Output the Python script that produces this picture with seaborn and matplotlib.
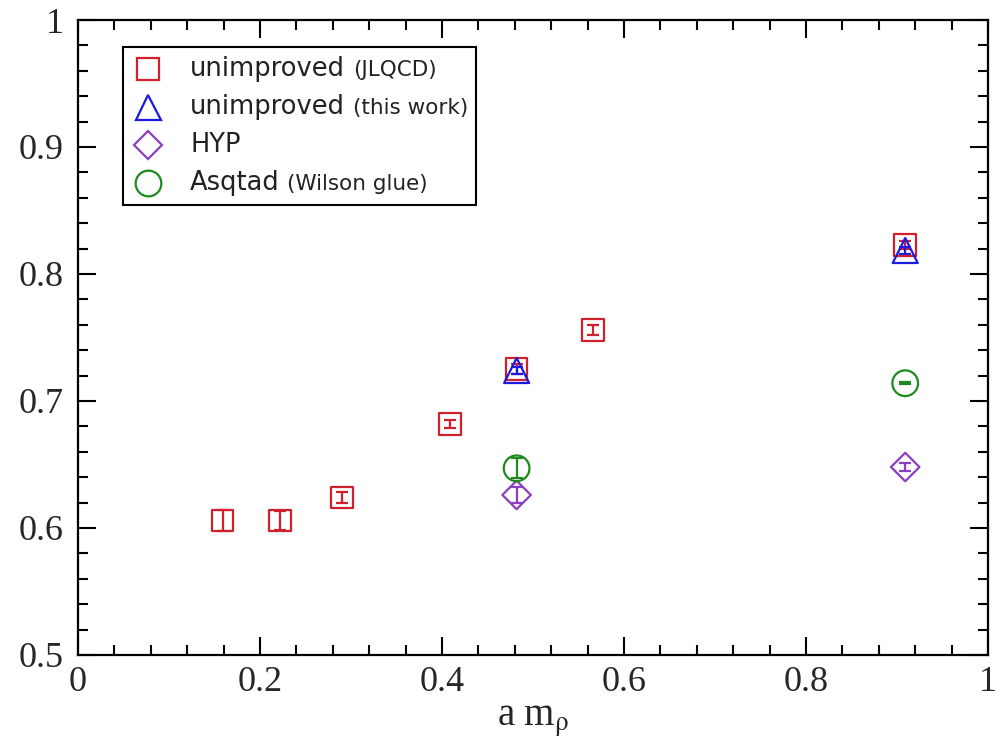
import matplotlib
matplotlib.use('Agg')
import matplotlib.pyplot as plt
import seaborn as sns
from matplotlib.lines import Line2D
from matplotlib.ticker import MultipleLocator, FuncFormatter
from matplotlib.offsetbox import (AnchoredOffsetbox, DrawingArea, HPacker,
                                  TextArea, VPacker)

# values
jlqcd_x = [0.159, 0.222, 0.290, 0.409, 0.482, 0.566, 0.909]
jlqcd_y = [0.606, 0.606, 0.624, 0.682, 0.725, 0.756, 0.823]
jlqcd_err = [0.008, 0.0075, 0.004, 0.003, 0.004, 0.004, 0.003]

this_x = [0.482, 0.909]
this_y = [0.724, 0.8185]
this_err = [0.003, 0.003]

hyp_x = [0.482, 0.909]
hyp_y = [0.626, 0.648]
hyp_err = [0.006, 0.003]

asq_x = [0.482, 0.909]
asq_y = [0.647, 0.714]
asq_err = [0.008, 0.001]

main_labels = ['unimproved', 'unimproved', 'HYP', 'Asqtad']
small_labels = ['(JLQCD)', '(this work)', '', '(Wilson glue)']

x_ticks = [0, 0.2, 0.4, 0.6, 0.8, 1]
y_ticks = [0.5, 0.6, 0.7, 0.8, 0.9, 1]

red = '#d0202c'
blue = '#1a1ae0'
purple = '#8a3fc0'
green = '#1f8a1f'

sns.set_style('ticks')
plt.rcParams['font.family'] = ['DejaVu Sans']
plt.rcParams['mathtext.fontset'] = 'stix'

fig, ax = plt.subplots(figsize=(9.96, 7.55), dpi=100)
fig.subplots_adjust(left=0.0783, right=0.992, bottom=0.1325, top=0.9735)

series = [
    (jlqcd_x, jlqcd_y, jlqcd_err, 's', 15.5, red),
    (this_x, this_y, this_err, '^', 18, blue),
    (hyp_x, hyp_y, hyp_err, 'D', 14.5, purple),
    (asq_x, asq_y, asq_err, 'o', 18.5, green),
]

for xs, ys, es, mk, ms, col in series:
    ax.errorbar(xs, ys, yerr=es, fmt='none', ecolor=col, elinewidth=1.6,
                capsize=4, capthick=1.6, zorder=2)
    sns.scatterplot(x=xs, y=ys, marker=mk, s=ms ** 2, facecolor='none',
                    edgecolor=col, linewidth=1.6, ax=ax, zorder=3)

ax.set_xlim(0, 1)
ax.set_ylim(0.5, 1)
ax.set_xticks(x_ticks)
ax.set_yticks(y_ticks)
ax.xaxis.set_minor_locator(MultipleLocator(0.04))
ax.yaxis.set_minor_locator(MultipleLocator(0.02))
fmt = FuncFormatter(lambda v, p: f'{v:g}')
ax.xaxis.set_major_formatter(fmt)
ax.yaxis.set_major_formatter(fmt)
ax.tick_params(which='both', direction='in', top=True, right=True,
               width=1.5, color='black')
ax.tick_params(which='major', length=13)
ax.tick_params(which='minor', length=7.5)
ax.tick_params(axis='x', which='major', pad=8)
ax.tick_params(axis='y', which='major', pad=10)
for lab in ax.get_xticklabels() + ax.get_yticklabels():
    lab.set_fontfamily('Liberation Serif')
    lab.set_fontsize(26)
for sp in ax.spines.values():
    sp.set_linewidth(1.6)
    sp.set_color('black')

ax.set_xlabel(r'a m$_{\mathrm{\rho}}$', family='Liberation Serif', fontsize=28,
              labelpad=2)
ax.set_ylabel('')

# legend built from packed boxes so the note in brackets can be smaller
rows = []
for (xs, ys, es, mk, ms, col), m, s in zip(series, main_labels, small_labels):
    da = DrawingArea(26, 20, 0, 0)
    da.add_artist(Line2D([13], [10], marker=mk, markersize=ms, linestyle='none',
                         markerfacecolor='none', markeredgecolor=col,
                         markeredgewidth=1.6))
    texts = [TextArea(m, textprops=dict(size=18.5, color='#222222'))]
    if s:
        texts.append(TextArea(s, textprops=dict(size=15.5, color='#222222')))
    words = HPacker(children=texts, align='baseline', pad=0, sep=5.5)
    rows.append(HPacker(children=[da, words], align='center', pad=0, sep=17))

box = VPacker(children=rows, align='left', pad=0, sep=7.5)
anch = AnchoredOffsetbox(loc='upper left', child=box, pad=0.3, borderpad=0,
                         frameon=True, bbox_to_anchor=(0.049, 0.957),
                         bbox_transform=ax.transAxes, prop=dict(size=18.5))
anch.patch.set_boxstyle('square', pad=0)
anch.patch.set_edgecolor('black')
anch.patch.set_linewidth(1.5)
ax.add_artist(anch)

fig.savefig('out.png', dpi=100)
